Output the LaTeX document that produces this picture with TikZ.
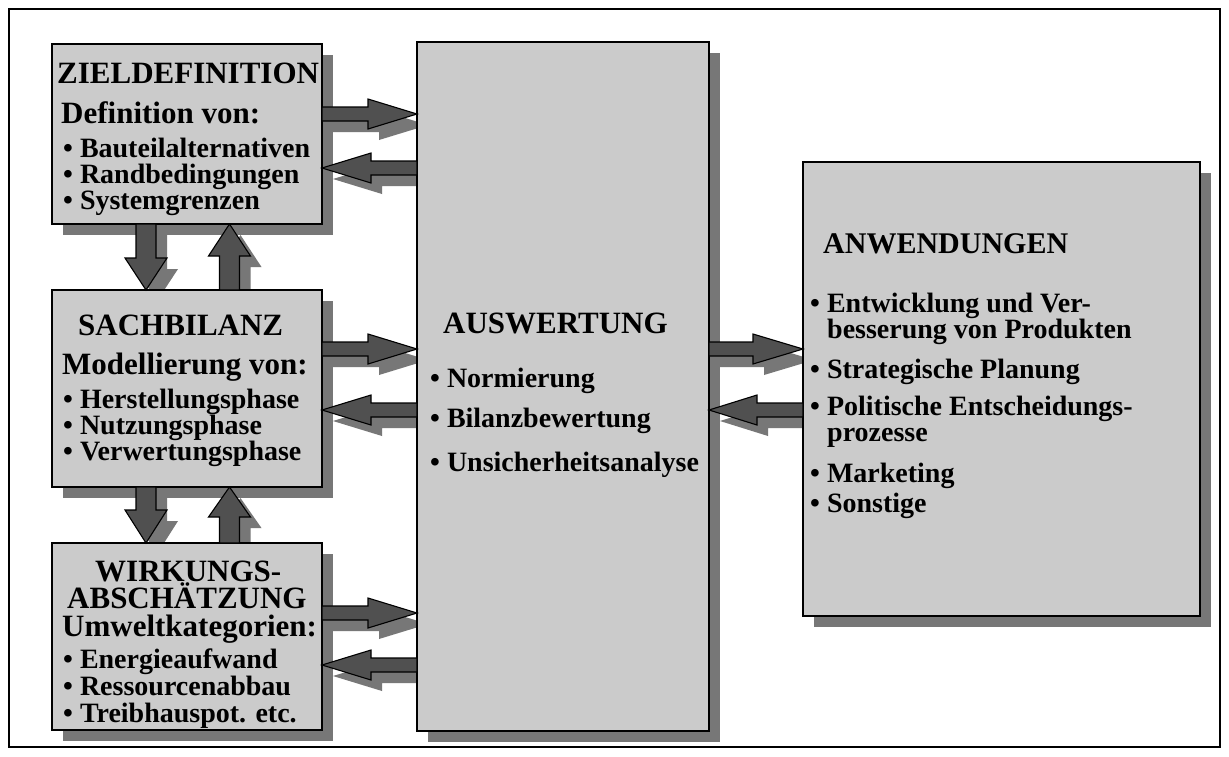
\documentclass[tikz,border=0pt]{standalone}
\usepackage{fontspec}
\setmainfont{Liberation Serif}
\usetikzlibrary{calc}
\pgfdeclarelayer{bglayer}
\pgfdeclarelayer{shadowlayer}
\pgfsetlayers{bglayer,shadowlayer,main}
\definecolor{boxgray}{HTML}{CBCBCB}
\definecolor{shadowgray}{HTML}{777777}
\definecolor{arrowgray}{HTML}{505050}
\tikzset{
  boxstyle/.style={draw=black, line width=1.8pt, fill=boxgray, outer sep=0pt, inner sep=0pt, anchor=north west},
  shadowstyle/.style={fill=shadowgray},
  arrowstyle/.style={draw=black, line width=1.1pt, fill=arrowgray, line join=miter},
  big/.style={font=\fontsize{31}{31}\selectfont\bfseries, anchor=base west, inner sep=0pt},
  item/.style={font=\fontsize{28}{28}\selectfont\bfseries, anchor=base west, inner sep=0pt},
}
% block arrow path: #1 from, #2 to, #3 head length, #4 head half width, #5 shaft half width
\newcommand{\arrowpath}[6]{%
  \coordinate (#6hb) at ($(#2)!#3!(#1)$);
  \path ($(#1)!#5!90:(#2)$) coordinate (#6p1)
        ($(#6hb)!#5!-90:(#1)$) coordinate (#6p2)
        ($(#6hb)!#4!-90:(#1)$) coordinate (#6p3)
        ($(#6hb)!#4!90:(#1)$) coordinate (#6p4)
        ($(#6hb)!#5!90:(#1)$) coordinate (#6p5)
        ($(#1)!#5!-90:(#2)$) coordinate (#6p6);
}
\newcommand{\blockarrow}[6]{%
  \arrowpath{#1}{#2}{#3}{#4}{#5}{#6}
  \begin{pgfonlayer}{shadowlayer}
    \begin{scope}[transform canvas={xshift=11pt,yshift=-11pt}]
      \fill[shadowstyle] (#6p1) -- (#6p2) -- (#6p3) -- (#2) -- (#6p4) -- (#6p5) -- (#6p6) -- cycle;
    \end{scope}
  \end{pgfonlayer}
  \draw[arrowstyle] (#6p1) -- (#6p2) -- (#6p3) -- (#2) -- (#6p4) -- (#6p5) -- (#6p6) -- cycle;
}
\begin{document}
\begin{tikzpicture}[x=1pt, y=-1pt]
\useasboundingbox (0,0) rectangle (1229,756);
\begin{pgfonlayer}{bglayer}
  \fill[white] (0,0) rectangle (1229,756);
  \draw[line width=2pt] (9,9) rectangle (1220,747);
\end{pgfonlayer}

% boxes
\node[boxstyle, minimum width=270pt, minimum height=180pt] (zd) at (52,44) {};
\node[boxstyle, minimum width=270pt, minimum height=197pt] (sb) at (52,290) {};
\node[boxstyle, minimum width=270pt, minimum height=187pt] (wa) at (52,543) {};
\node[boxstyle, minimum width=292pt, minimum height=689pt] (aw) at (417,42) {};
\node[boxstyle, minimum width=397pt, minimum height=454pt] (an) at (803,162) {};

\begin{pgfonlayer}{shadowlayer}
  \foreach \b in {zd,sb,wa,aw,an}{
    \fill[shadowstyle] ($(\b.north west)+(11pt,-11pt)$) rectangle ($(\b.south east)+(11pt,-11pt)$);
  }
\end{pgfonlayer}

% connector end points
\coordinate (c1s) at (zd.east |- 0,114);  \coordinate (c1e) at (aw.west |- 0,114);
\coordinate (c2s) at (aw.west |- 0,168);  \coordinate (c2e) at (zd.east |- 0,168);
\coordinate (c3s) at (sb.east |- 0,349);  \coordinate (c3e) at (aw.west |- 0,349);
\coordinate (c4s) at (aw.west |- 0,410);  \coordinate (c4e) at (sb.east |- 0,410);
\coordinate (c5s) at (wa.east |- 0,613);  \coordinate (c5e) at (aw.west |- 0,613);
\coordinate (c6s) at (aw.west |- 0,665);  \coordinate (c6e) at (wa.east |- 0,665);
\coordinate (c7s) at (aw.east |- 0,349);  \coordinate (c7e) at (an.west |- 0,349);
\coordinate (c8s) at (an.west |- 0,410);  \coordinate (c8e) at (aw.east |- 0,410);
\coordinate (c9s) at (146,0 |- zd.south);   \coordinate (c9e) at (146,0 |- sb.north);
\coordinate (c10s) at (229.5,0 |- sb.north); \coordinate (c10e) at (229.5,0 |- zd.south);
\coordinate (c11s) at (146,0 |- sb.south);  \coordinate (c11e) at (146,0 |- wa.north);
\coordinate (c12s) at (229.5,0 |- wa.north); \coordinate (c12e) at (229.5,0 |- sb.south);

\blockarrow{c1s}{c1e}{49pt}{15pt}{7pt}{a1}
\blockarrow{c2s}{c2e}{49pt}{15pt}{7pt}{a2}
\blockarrow{c3s}{c3e}{49pt}{15pt}{7pt}{a3}
\blockarrow{c4s}{c4e}{49pt}{15pt}{7pt}{a4}
\blockarrow{c5s}{c5e}{49pt}{15pt}{7pt}{a5}
\blockarrow{c6s}{c6e}{49pt}{15pt}{7pt}{a6}
\blockarrow{c7s}{c7e}{50pt}{15pt}{7pt}{a7}
\blockarrow{c8s}{c8e}{48pt}{15pt}{7pt}{a8}
\blockarrow{c9s}{c9e}{32pt}{21pt}{10pt}{a9}
\blockarrow{c10s}{c10e}{32pt}{21pt}{10pt}{a10}
\blockarrow{c11s}{c11e}{33pt}{21pt}{10pt}{a11}
\blockarrow{c12s}{c12e}{30pt}{21pt}{10pt}{a12}

% texts: Zieldefinition
\node[big] (zdt) at (57,83) {ZIELDEFINITION};
\node[big] (zds) at (61,123) {Definition von:};
\node[item] (zd1) at (63,157) {• Bauteilalternativen};
\node[item] (zd2) at (63,183) {• Randbedingungen};
\node[item] (zd3) at (63,209) {• Systemgrenzen};
% Sachbilanz
\node[big] (sbt) at (78,335) {SACHBILANZ};
\node[big] (sbs) at (62,374) {Modellierung von:};
\node[item] (sb1) at (63,408) {• Herstellungsphase};
\node[item] (sb2) at (63,434) {• Nutzungsphase};
\node[item] (sb3) at (63,460) {• Verwertungsphase};
% Wirkungsabschaetzung
\node[big] (wat1) at (95,581) {WIRKUNGS-};
\node[big] (wat2) at (67,608) {ABSCHÄTZUNG};
\node[big] (was) at (62,636) {Umweltkategorien:};
\node[item] (wa1) at (63,668) {• Energieaufwand};
\node[item] (wa2) at (63,695) {• Ressourcenabbau};
\node[item] (wa3) at (63,722) {• Treibhauspot. etc.};
% Auswertung
\node[big] (awt) at (443,333) {AUSWERTUNG};
\node[item] (aw1) at (430,387) {• Normierung};
\node[item] (aw2) at (430,427) {• Bilanzbewertung};
\node[item] (aw3) at (430,471) {• Unsicherheitsanalyse};
% Anwendungen
\node[big, font=\fontsize{30}{30}\selectfont\bfseries] (ant) at (823,253) {ANWENDUNGEN};
\node[item] (an1) at (810,312) {• Entwicklung und Ver-};
\node[item] (an1b) at (827,338) {besserung von Produkten};
\node[item] (an2) at (810,378) {• Strategische Planung};
\node[item] (an3) at (810,415) {• Politische Entscheidungs-};
\node[item] (an3b) at (827,441) {prozesse};
\node[item] (an4) at (810,482) {• Marketing};
\node[item] (an5) at (810,512) {• Sonstige};
\end{tikzpicture}
\end{document}
